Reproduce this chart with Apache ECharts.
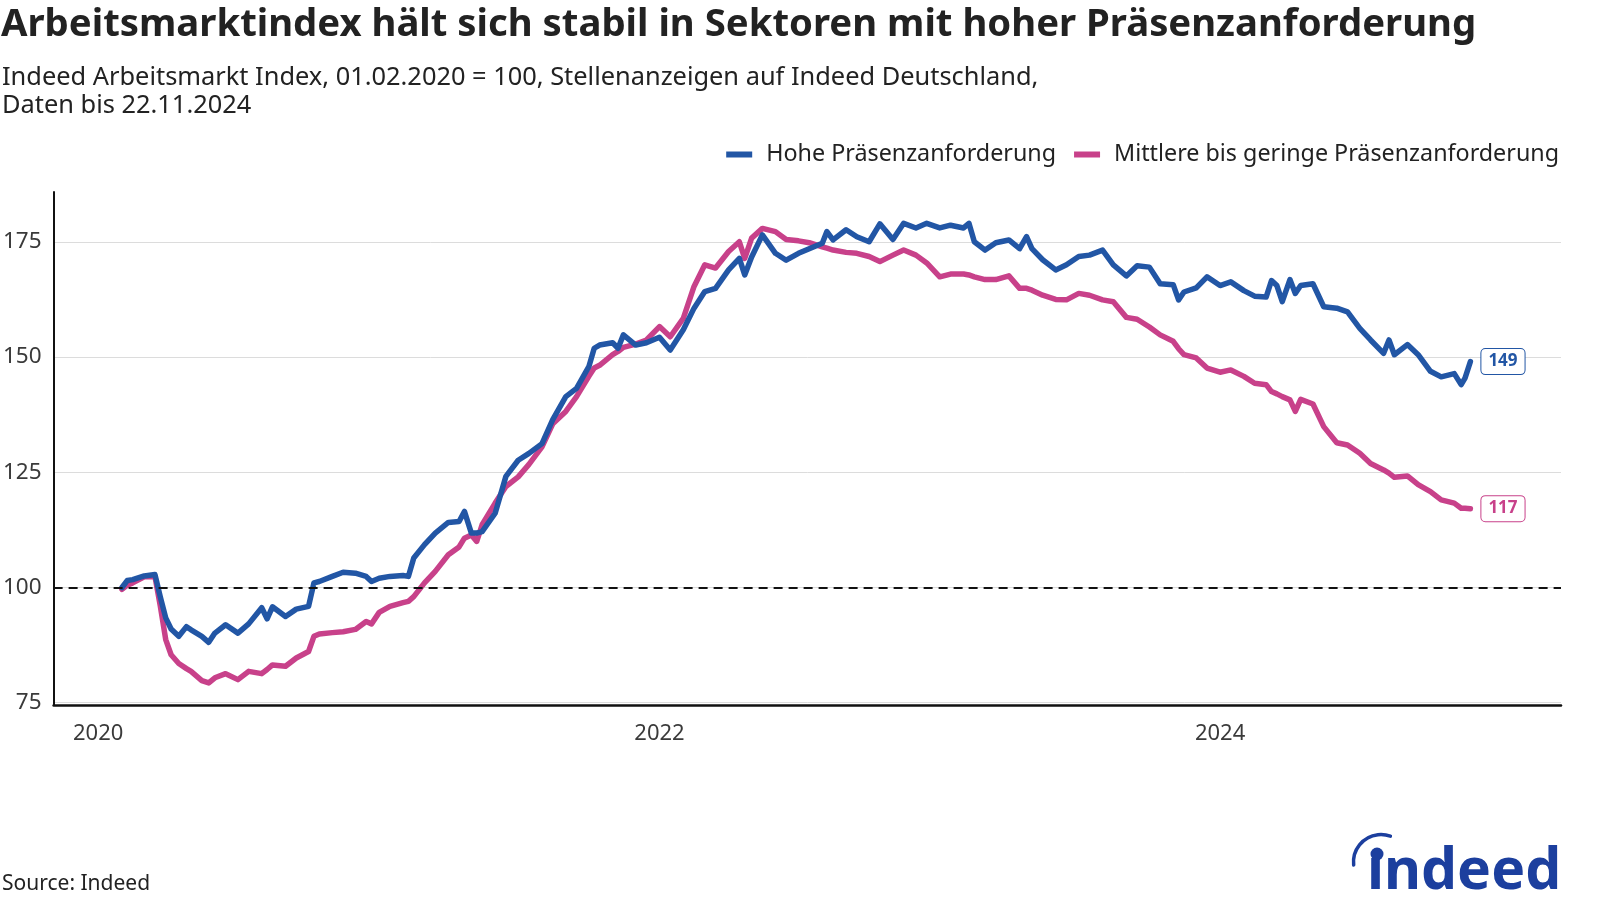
<!DOCTYPE html>
<html><head><meta charset="utf-8">
<script src="https://cdn.jsdelivr.net/npm/echarts@6/dist/echarts.min.js"></script>
<style>html,body{margin:0;padding:0;background:#fff}#c{width:1600px;height:914px}</style>
</head><body><div id="c"></div>
<script>
const titleText = 'Arbeitsmarktindex hält sich stabil in Sektoren mit hoher Präsenzanforderung';
const subtitleLines = ['Indeed Arbeitsmarkt Index, 01.02.2020 = 100, Stellenanzeigen auf Indeed Deutschland,', 'Daten bis 22.11.2024'];
const sourceText = 'Source: Indeed';
const seriesNames = ['Hohe Präsenzanforderung', 'Mittlere bis geringe Präsenzanforderung'];

const dates = ['2020-02-01','2020-02-08','2020-02-15','2020-03-01','2020-03-15','2020-03-22','2020-03-29','2020-04-05','2020-04-15','2020-04-25','2020-05-01','2020-05-15','2020-05-24','2020-06-01','2020-06-15','2020-07-01','2020-07-15','2020-08-01','2020-08-08','2020-08-15','2020-09-01','2020-09-15','2020-10-01','2020-10-08','2020-10-15','2020-11-01','2020-11-15','2020-12-01','2020-12-15','2020-12-22',
'2021-01-01','2021-01-15','2021-02-01','2021-02-08','2021-02-15','2021-03-01','2021-03-15','2021-04-01','2021-04-15','2021-04-22','2021-05-01','2021-05-08','2021-05-15','2021-06-01','2021-06-15','2021-07-01','2021-07-15','2021-08-01','2021-08-15','2021-09-01','2021-09-15','2021-10-01','2021-10-08','2021-10-15','2021-11-01','2021-11-08','2021-11-15','2021-12-01','2021-12-15',
'2022-01-01','2022-01-15','2022-02-01','2022-02-15','2022-03-01','2022-03-15','2022-04-01','2022-04-15','2022-04-22','2022-05-01','2022-05-15','2022-06-01','2022-06-15','2022-07-01','2022-07-15','2022-08-01','2022-08-07','2022-08-15','2022-09-01','2022-09-15','2022-10-01','2022-10-15','2022-11-01','2022-11-15','2022-12-01','2022-12-15',
'2023-01-01','2023-01-15','2023-02-01','2023-02-08','2023-02-15','2023-03-01','2023-03-15','2023-04-01','2023-04-15','2023-04-24','2023-05-01','2023-05-15','2023-06-01','2023-06-15','2023-07-01','2023-07-15','2023-08-01','2023-08-15','2023-09-01','2023-09-15','2023-10-01','2023-10-15','2023-11-01','2023-11-08','2023-11-15','2023-12-01','2023-12-15',
'2024-01-01','2024-01-15','2024-02-01','2024-02-15','2024-03-01','2024-03-08','2024-03-15','2024-03-22','2024-04-01','2024-04-08','2024-04-15','2024-05-01','2024-05-15','2024-06-01','2024-06-15','2024-07-01','2024-07-15','2024-08-01','2024-08-08','2024-08-15','2024-09-01','2024-09-15','2024-10-01','2024-10-15','2024-11-01','2024-11-10','2024-11-15','2024-11-22'];

const hohe = [100.0,101.5,101.7,102.5,102.8,97.9,93.4,91.0,89.4,91.5,90.8,89.4,88.1,90.1,91.9,90.1,92.1,95.6,93.2,95.8,93.7,95.3,95.9,101.0,101.3,102.4,103.3,103.1,102.4,101.3,
102.0,102.4,102.6,102.4,106.4,109.3,111.8,114.1,114.3,116.5,111.8,111.8,112.1,116.1,124.1,127.6,129.1,131.2,136.4,141.4,143.2,147.9,151.9,152.6,153.1,151.9,154.8,152.6,153.1,
154.3,151.5,155.9,160.6,164.2,164.9,168.9,171.4,167.8,171.7,176.5,172.5,171.0,172.5,173.5,174.7,177.2,175.4,177.6,176.1,175.0,178.9,175.5,179.0,178.0,179.0,
178.0,178.6,178.0,179.0,175.0,173.2,174.8,175.4,173.5,176.1,173.5,171.1,168.9,170.0,171.8,172.1,173.2,170.0,167.6,169.8,169.5,165.9,165.7,162.4,164.1,165.0,167.4,
165.5,166.3,164.4,163.2,163.0,166.6,165.5,162.0,166.8,163.8,165.5,165.9,160.9,160.6,159.8,156.2,153.7,150.8,153.7,150.5,152.7,150.5,146.9,145.7,146.4,144.0,145.4,149.0];

const mittlere = [99.6,100.5,101.0,102.3,102.4,95.9,88.7,85.4,83.5,82.4,81.8,79.8,79.3,80.4,81.3,80.0,81.8,81.3,82.2,83.2,82.9,84.7,86.1,89.4,89.9,90.2,90.4,90.9,92.6,92.1,
94.6,95.9,96.7,97.0,98.0,101.0,103.5,107.1,108.8,110.7,111.4,110.0,113.6,118.3,121.9,124.0,126.7,130.5,135.5,138.2,141.4,145.8,147.6,148.2,150.5,151.2,152.1,152.8,153.7,
156.6,154.4,158.4,165.3,170.0,169.3,172.9,175.0,171.4,175.8,177.9,177.2,175.5,175.2,174.8,173.9,173.6,173.2,172.7,172.5,171.8,170.7,172.1,173.2,172.1,170.4,
167.4,168.0,168.0,167.8,167.4,166.8,166.8,167.6,164.9,164.9,164.5,163.4,162.5,162.4,163.8,163.4,162.4,162.0,158.6,158.2,156.5,154.8,153.4,151.8,150.5,149.8,147.6,
146.7,147.2,145.8,144.3,144.0,142.5,142.0,141.4,140.7,138.2,140.8,139.8,134.9,131.4,130.9,129.1,126.9,125.5,124.8,123.9,124.2,122.3,120.8,119.0,118.3,117.2,117.2,117.1];

const yTicks = [75, 100, 125, 150, 175];
const xTickDates = ['2020-01-01', '2022-01-01', '2024-01-01'];
const xTickLabels = ['2020', '2022', '2024'];
const referenceValue = 100;

const BLUE = '#2256a5';
const PINK = '#c8418a';
const LOGO = '#1c3f9e';
const FONT = 'Noto Sans';

const ts = d => Date.parse(d + 'T00:00:00Z');
const xTickTs = xTickDates.map(ts);

const chart = echarts.init(document.getElementById('c'), null, {renderer: 'canvas'});

function endLabel(color) {
  return {
    show: true,
    formatter: p => String(Math.round(p.value[1])),
    color: color, fontFamily: FONT, fontWeight: 'bold', fontSize: 17, lineHeight: 18,
    backgroundColor: '#fff', borderColor: color, borderWidth: 1, borderRadius: 4,
    padding: [4, 7, 3, 7], distance: 11
  };
}

chart.setOption({
  animation: false,
  backgroundColor: '#fff',
  textStyle: {fontFamily: FONT},
  title: [
    {text: titleText, left: 1, top: 6, padding: 0,
     textStyle: {fontFamily: FONT, fontSize: 38.3, fontWeight: 'bold', color: '#222'}},
    {text: subtitleLines.join('\n'), left: 2, top: 64, padding: 0,
     textStyle: {fontFamily: FONT, fontSize: 25.4, lineHeight: 28, fontWeight: 'normal', color: '#222'}},
    {text: sourceText, left: 2, top: 874, padding: 0,
     textStyle: {fontFamily: FONT, fontSize: 21, fontWeight: 'normal', color: '#222'}}
  ],
  legend: {
    data: seriesNames, right: 41, top: 143, padding: 0, itemGap: 18,
    icon: 'rect', itemWidth: 26, itemHeight: 6,
    textStyle: {fontFamily: FONT, fontSize: 23.3, color: '#222', padding: [0, 0, 0, 9]}
  },
  grid: {left: 53, right: 39, top: 192, bottom: 209, containLabel: false},
  xAxis: {
    type: 'value',
    min: ts('2019-11-04'), max: ts('2025-03-20'),
    axisLine: {show: true, onZero: false, lineStyle: {color: '#111', width: 2.5}},
    axisTick: {show: false, customValues: xTickTs},
    splitLine: {show: false},
    axisLabel: {
      customValues: xTickTs,
      formatter: v => { const i = xTickTs.indexOf(+v); return i >= 0 ? xTickLabels[i] : ''; },
      color: '#3a3a3a', fontFamily: FONT, fontSize: 22, margin: 18
    }
  },
  yAxis: {
    type: 'value', min: 74.5, max: 185.8,
    axisLine: {show: true, onZero: false, lineStyle: {color: '#111', width: 2}},
    axisTick: {show: false, customValues: yTicks},
    splitLine: {show: true, lineStyle: {color: '#dcdcdc', width: 1}},
    axisLabel: {customValues: yTicks, color: '#3a3a3a', fontFamily: FONT, fontSize: 22.5, margin: 12}
  },
  series: [
    {
      type: 'line', name: 'ref', data: [], z: 1, silent: true,
      markLine: {silent: true, symbol: 'none', label: {show: false},
        lineStyle: {color: '#111', type: [9, 6], width: 2},
        data: [{yAxis: referenceValue}]}
    },
    {
      type: 'line', name: seriesNames[0], z: 3,
      data: dates.map((d, i) => [ts(d), hohe[i]]),
      showSymbol: false, symbol: 'none',
      lineStyle: {color: BLUE, width: 5.5, cap: 'round', join: 'round'},
      itemStyle: {color: BLUE},
      endLabel: endLabel(BLUE)
    },
    {
      type: 'line', name: seriesNames[1], z: 2,
      data: dates.map((d, i) => [ts(d), mittlere[i]]),
      showSymbol: false, symbol: 'none',
      lineStyle: {color: PINK, width: 5.5, cap: 'round', join: 'round'},
      itemStyle: {color: PINK},
      endLabel: endLabel(PINK)
    }
  ],
  graphic: [
    {type: 'arc', shape: {cx: 1381, cy: 862, r: 27.5, startAngle: 3.03, endAngle: 5.06, clockwise: true},
     style: {stroke: LOGO, lineWidth: 3.5, fill: null, lineCap: 'round'}},
    {type: 'circle', shape: {cx: 1377, cy: 854, r: 6.5}, style: {fill: LOGO}},
    {type: 'text', left: 1367, top: 844,
     style: {text: 'ındeed', fontFamily: FONT, fontWeight: 'bold', fontSize: 57, fill: LOGO}}
  ]
});
</script>
</body></html>
